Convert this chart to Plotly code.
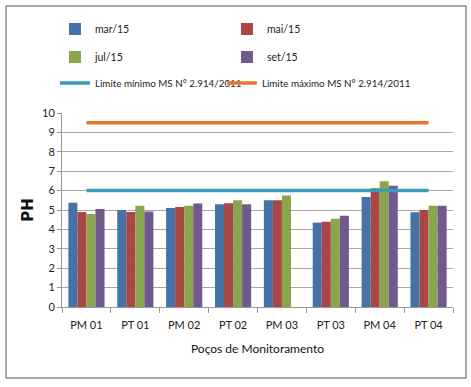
import plotly.graph_objects as go

categories = ["PM 01", "PT 01", "PM 02", "PT 02", "PM 03", "PT 03", "PM 04", "PT 04"]
mar15 = [5.38, 5.0, 5.1, 5.3, 5.5, 4.35, 5.67, 4.88]
mai15 = [4.9, 4.9, 5.15, 5.35, 5.5, 4.4, 6.12, 5.0]
jul15 = [4.8, 5.22, 5.22, 5.5, 5.75, 4.55, 6.48, 5.22]
set15 = [5.05, 4.92, 5.33, 5.3, None, 4.7, 6.25, 5.22]
limite_min = [6.0] * 8
limite_max = [9.5] * 8

FONT = "Lato, Liberation Sans, sans-serif"

fig = go.Figure()
bar_series = [
    ("mar/15", mar15, "#4572A7", "legend"),
    ("mai/15", mai15, "#AA4643", "legend"),
    ("jul/15", jul15, "#89A54E", "legend2"),
    ("set/15", set15, "#71588F", "legend2"),
]
for name, vals, col, lg in bar_series:
    fig.add_trace(go.Bar(x=categories, y=vals, name=name, marker_color=col,
                         marker_line_width=0, legend=lg))

fig.add_trace(go.Scatter(x=categories, y=limite_min, mode="lines",
                         name="Limite mínimo MS N° 2.914/2011",
                         line=dict(color="#3A9CB8", width=3.5), legend="legend3"))
fig.add_trace(go.Scatter(x=categories, y=limite_max, mode="lines",
                         name="Limite máximo MS N° 2.914/2011",
                         line=dict(color="#E8772E", width=3.5), legend="legend4"))

def leg(x, y, size, ew=127):
    d = dict(orientation="h", x=x, xanchor="left", y=y, yanchor="middle",
             font=dict(family=FONT, size=size, color="#222"),
             bgcolor="rgba(0,0,0,0)", itemclick=False)
    if ew:
        d.update(entrywidth=ew, entrywidthmode="pixels")
    return d

fig.update_layout(
    width=471, height=387,
    margin=dict(l=62, r=18, t=113, b=80),
    paper_bgcolor="white", plot_bgcolor="white",
    barmode="group", bargap=0.26, bargroupgap=0,
    font=dict(family=FONT, size=11, color="#222"),
    legend=leg(-0.018, 1.433, 10.5),
    legend2=leg(-0.018, 1.289, 10.5),
    legend3=leg(-0.018, 1.155, 9.8, 0),
    legend4=leg(0.409, 1.155, 9.8, 0),
    xaxis=dict(
        type="category", showgrid=False, showline=True, linecolor="#999",
        ticks="outside", tickson="boundaries", ticklen=5, tickcolor="#999",
        ticklabelstandoff=8,
        tickfont=dict(family=FONT, size=11, color="#222"),
        title=dict(text="Poços de Monitoramento", standoff=14,
                   font=dict(family=FONT, size=12, color="#111")),
    ),
    yaxis=dict(
        range=[0, 10], dtick=1, showgrid=True, gridcolor="#A6A6A6", gridwidth=1,
        showline=True, linecolor="#999", ticks="outside", ticklen=4, tickcolor="#999",
        zeroline=False,
        tickfont=dict(family=FONT, size=11, color="#222"),
        title=dict(text="<b>PH</b>", standoff=4,
                   font=dict(family="DejaVu Sans, sans-serif", size=15, color="#111")),
    ),
    shapes=[dict(type="rect", xref="paper", yref="paper",
                 x0=-0.143, x1=1.033, y0=-0.366, y1=1.552,
                 line=dict(color="#8C8C8C", width=1.5), layer="below")],
)

fig.write_html("out.html", config={"displayModeBar": False},
               post_script="document.body.style.margin='0px';")
